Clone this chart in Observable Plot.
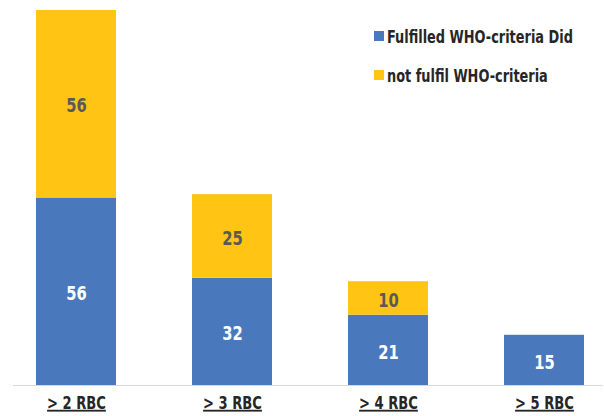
<!DOCTYPE html>
<html><head><meta charset="utf-8">
<script src="https://cdn.jsdelivr.net/npm/d3@7"></script>
<script src="https://cdn.jsdelivr.net/npm/@observablehq/plot@0.6"></script>
<style>
body{margin:0;background:#fff;}
#wrap{position:relative;width:604px;height:416px;font-family:"DejaVu Sans Condensed","DejaVu Sans",sans-serif;font-weight:bold;}
#legend{position:absolute;left:374px;top:25px;font-size:18.5px;color:#262626;}
.item{display:flex;align-items:center;height:22px;margin-bottom:17px;white-space:nowrap;}
.sw{width:10px;height:10px;margin-right:3px;flex:none;}
.lt{display:inline-block;transform:scaleX(0.775);transform-origin:left center;}
svg text.xlab{text-decoration:underline;text-decoration-color:#666666;text-decoration-thickness:1.5px;text-underline-offset:3px;}
</style></head><body>
<div id="wrap"><div id="legend"></div></div>
<script>
const categories = ["> 2 RBC", "> 3 RBC", "> 4 RBC", "> 5 RBC"];
const series = ["Fulfilled WHO-criteria Did", "not fulfil WHO-criteria"];
const fulfilled = [56, 32, 21, 15];
const notFulfilled = [56, 25, 10, 0];
const colors = ["#4A78BD", "#FFC414"];
const labelColors = ["#ffffff", "#595959"];

const data = [];
categories.forEach((c, i) => {
  data.push({cat: c, series: series[0], value: fulfilled[i], idx: 0});
  data.push({cat: c, series: series[1], value: notFulfilled[i], idx: 1});
});

const font = '"DejaVu Sans Condensed","DejaVu Sans",sans-serif';

const chart = Plot.plot({
  width: 604, height: 416,
  marginTop: 10, marginBottom: 31, marginLeft: 13, marginRight: 1,
  style: {fontFamily: font, background: "white", overflow: "visible"},
  x: {domain: categories, range: [34, 585], paddingInner: 0.49, paddingOuter: 0, label: null},
  y: {domain: [0, 112], axis: null},
  color: {type: "identity"},
  marks: [
    Plot.barY(data, Plot.stackY({x: "cat", y: "value", z: "series", fill: d => colors[d.idx]})),
    Plot.ruleY([0], {stroke: "#d9d9d9", strokeWidth: 1}),
    Plot.text(data.filter(d => d.value > 0), Plot.stackY({
      x: "cat", y: "value", z: "series",
      text: d => String(d.value),
      fill: d => labelColors[d.idx],
      fontSize: 19.5, fontWeight: "bold", dy: 2, className: "vals"
    })),
    Plot.axisX({tickSize: 0, tickPadding: 10, fontSize: 18.5, fontWeight: "bold", fill: "#262626", className: "xaxis"})
  ]
});
document.getElementById("wrap").appendChild(chart);

function squeeze(sel, k) {
  chart.querySelectorAll(sel).forEach(t => {
    const tr = t.getAttribute("transform") || "";
    t.setAttribute("transform", tr + ` scale(${k},1)`);
  });
}
chart.querySelectorAll(".xaxis text").forEach(t => t.classList.add("xlab"));
squeeze(".xaxis text", 0.787);
squeeze(".vals text", 0.84);

const legend = document.getElementById("legend");
series.forEach((s, i) => {
  const item = document.createElement("div");
  item.className = "item";
  const sw = document.createElement("span");
  sw.className = "sw";
  sw.style.background = colors[i];
  const tx = document.createElement("span");
  tx.className = "lt";
  tx.textContent = s;
  item.appendChild(sw); item.appendChild(tx);
  legend.appendChild(item);
});
</script>
</body></html>
